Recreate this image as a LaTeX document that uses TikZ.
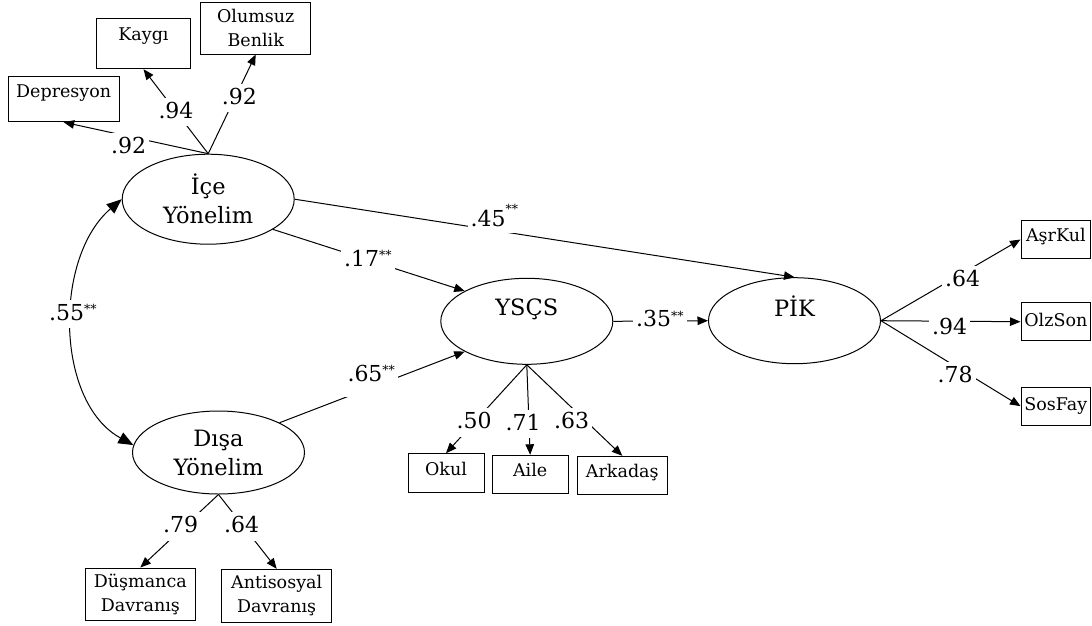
\documentclass[tikz,border=0pt]{standalone}
\usepackage{fontspec}
\setmainfont{DejaVu Serif}
\usetikzlibrary{arrows.meta,shapes.geometric}
\newcommand\sigst{\raisebox{6.5pt}{\fontsize{12.5}{12.5}\selectfont **}}
\newcommand\sigsthi{\raisebox{13.5pt}{\fontsize{12.5}{12.5}\selectfont **}}
\begin{document}
\begin{tikzpicture}[x=1pt,y=-1pt,
  lat/.style={ellipse, draw, line width=1pt, inner sep=0pt, minimum width=172pt, align=center, font=\fontsize{22.5}{29}\selectfont},
  obs/.style={rectangle, draw, line width=1pt, inner sep=0pt, font=\fontsize{17.5}{24}\selectfont},
  conn/.style={line width=1pt, -{Triangle[length=10.5pt,width=8.5pt]}},
  lab/.style={fill=white, font=\fontsize{22}{22}\selectfont, inner xsep=3pt, inner ysep=4pt, text depth=4pt, anchor=base west, xshift=-3pt}]
\useasboundingbox (0,0) rectangle (1092,625);

% latent variables
\node[lat, minimum height=90pt] (ice) at (208.2,199.2) {İçe\\Yönelim};
\node[lat, minimum height=83pt] (disa) at (218.5,452.5) {Dışa\\Yönelim};
\node[lat, minimum height=86pt] (ysc) at (526.8,321.3) {YSÇS\\\mbox{}};
\node[lat, minimum height=86pt] (pik) at (794.5,320.7) {PİK\\\mbox{}};

% observed variables
\node[obs, minimum width=110.7pt, text height=21.3pt, text depth=24.4pt] (dep) at (63.65,98.85) {Depresyon};
\node[obs, minimum width=93.6pt, text height=21.7pt, text depth=28.7pt] (kay) at (143.5,43.5) {Kaygı};
\node[obs, minimum width=110pt, minimum height=51.3pt, align=center] (olu) at (255.7,28.35) {Olumsuz\\Benlik};
\node[obs, minimum width=69.7pt, text height=21pt, text depth=16.6pt] (asr) at (1055.85,239.5) {AşrKul};
\node[obs, minimum width=69.7pt, text height=24pt, text depth=14pt] (olz) at (1055.85,321.7) {OlzSon};
\node[obs, minimum width=69.7pt, text height=22.7pt, text depth=15pt] (sos) at (1055.85,406.15) {SosFay};
\node[obs, minimum width=76pt, text height=21.6pt, text depth=16.7pt] (okul) at (446,472.85) {Okul};
\node[obs, minimum width=75.7pt, text height=20.7pt, text depth=17.7pt] (aile) at (530.15,474.5) {Aile};
\node[obs, minimum width=90pt, text height=21.4pt, text depth=16.6pt] (ark) at (622.3,475.3) {Arkadaş};
\node[obs, minimum width=109.3pt, minimum height=52.3pt, align=center] (dus) at (140.35,594.15) {Düşmanca\\Davranış};
\node[obs, minimum width=110pt, minimum height=52.7pt, align=center] (ant) at (276.7,595.65) {Antisosyal\\Davranış};

% connectors
\draw[conn] (ice.north) -- (dep.south);
\draw[conn] (ice.north) -- (kay.south);
\draw[conn] (ice.north) -- (olu.south);
\draw[conn] (ice.east) -- (pik.north);
\draw[conn] (ice.-25) -- (ysc.154);
\draw[conn] (disa.26) -- (ysc.206);
\draw[conn] (ysc.east) -- (pik.west);
\draw[conn] (ysc.south) -- (okul.north);
\draw[conn] (ysc.south) -- (aile.north);
\draw[conn] (ysc.south) -- (ark.north);
\draw[conn] (pik.east) -- (asr.west);
\draw[conn] (pik.east) -- (olz.west);
\draw[conn] (pik.east) -- (sos.west);
\draw[conn] (disa.south) -- (dus.north);
\draw[conn] (disa.south) -- (ant.north);
\draw[line width=1pt, {Triangle[length=15pt,width=12pt]}-{Triangle[length=15pt,width=12pt]}]
  (ice.west) .. controls (53.6,257.5) and (55,402) .. (disa.175);

% labels
\node[lab] (l1) at (111,153) {.92};
\node[lab] (l2) at (158.3,118.3) {.94};
\node[lab] (l3) at (221.7,104) {.92};
\node[lab] (l4) at (49,320) {.55\sigst};
\node[lab, text depth=2pt] (l5) at (470.5,226.7) {.45\sigsthi};
\node[lab] (l6) at (344,266) {.17\sigst\hspace{12pt}};
\node[lab, text depth=12pt] (l7) at (347.3,381.3) {.65\sigst\hspace{14pt}};
\node[lab] (l8) at (636,326.7) {.35\sigst};
\node[lab] (l9) at (945,286.7) {.64\hspace{5pt}};
\node[lab] (l10) at (932,334) {.94\hspace{13pt}};
\node[lab] (l11) at (937.5,382.7) {.78\hspace{5pt}};
\node[lab] (l12) at (456.5,428.7) {.50};
\node[lab] (l13) at (505.5,430) {.71};
\node[lab] (l14) at (554,428) {.63};
\node[lab] (l15) at (163,532.7) {.79};
\node[lab] (l16) at (224,532.7) {.64};
\end{tikzpicture}
\end{document}
